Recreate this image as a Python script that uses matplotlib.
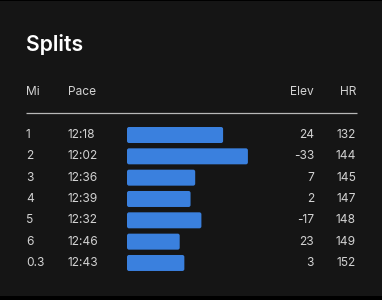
import matplotlib
matplotlib.use("Agg")
import matplotlib.pyplot as plt
from matplotlib.patches import FancyBboxPatch, Rectangle
import matplotlib.transforms as mtransforms

# ---- data ----
miles = ["1", "2", "3", "4", "5", "6", "0.3"]
paces = ["12:18", "12:02", "12:36", "12:39", "12:32", "12:46", "12:43"]
elev = [24, -33, 7, 2, -17, 23, 3]
hr = [132, 144, 145, 147, 148, 149, 152]
headers = ["Mi", "Pace", "Elev", "HR"]
title = "Splits"

pace_sec = [int(p.split(":")[0]) * 60 + int(p.split(":")[1]) for p in paces]
baseline = 800  # 13:20 -> zero-length bar
bar_len = [baseline - s for s in pace_sec]

W, H = 382, 300
DPI = 100
plt.rcParams['font.family'] = ['Inter', 'DejaVu Sans']

fig = plt.figure(figsize=(W / DPI, H / DPI), dpi=DPI, facecolor="#000000")
base = fig.add_axes([0, 0, 1, 1])
base.set_xlim(0, W)
base.set_ylim(H, 0)
base.axis("off")
base.add_patch(Rectangle((0, 1), W, 295, facecolor="#151515", edgecolor="none", zorder=0))

# bar axes
px_per_sec = 1.55
bx0, bx1 = 127, 357
row0, row_step = 135, 21.33
n = len(miles)
y_top = row0 - row_step / 2
y_bot = row0 + row_step * (n - 0.5)
bar_ax = fig.add_axes([bx0 / W, 1 - y_bot / H, (bx1 - bx0) / W, (y_bot - y_top) / H])
bar_ax.set_xlim(0, (bx1 - bx0) / px_per_sec)
bar_ax.set_ylim(n - 0.5, -0.5)
bar_ax.axis("off")
bar_ax.patch.set_alpha(0)

bar_h = 16 / row_step
x_per_px = 1 / px_per_sec
y_per_px = 1 / row_step
for i, L in enumerate(bar_len):
    p = FancyBboxPatch((0, i - bar_h / 2), L, bar_h,
                       boxstyle="round,pad=0,rounding_size=%f" % (2 * x_per_px),
                       mutation_aspect=y_per_px / x_per_px,
                       facecolor="#3a80de", edgecolor="none")
    bar_ax.add_patch(p)

# text
tc = "#d2d2d2"
fs = 8.6
base.text(26, 44.5, title, fontsize=15.2, fontweight="semibold", color="#ffffff",
          ha="left", va="center")
hy = 92
base.text(26, hy, headers[0], fontsize=fs, color=tc, ha="left", va="center")
base.text(68, hy, headers[1], fontsize=fs, color=tc, ha="left", va="center")
base.text(314, hy, headers[2], fontsize=fs, color=tc, ha="right", va="center")
base.text(356, hy, headers[3], fontsize=fs, color=tc, ha="right", va="center")
base.plot([26, 357], [113.3, 113.3], color="#b8b8b8", lw=0.9, solid_capstyle="butt")

tr = mtransforms.blended_transform_factory(base.transData, bar_ax.transData)
for i in range(n):
    base.text(26, i, miles[i], fontsize=fs, color=tc, ha="left", va="center", transform=tr)
    base.text(68, i, paces[i], fontsize=fs, color=tc, ha="left", va="center", transform=tr)
    base.text(314, i, str(elev[i]), fontsize=fs, color=tc, ha="right", va="center", transform=tr)
    base.text(356, i, str(hr[i]), fontsize=fs, color=tc, ha="right", va="center", transform=tr)

fig.savefig("out.png", dpi=DPI, facecolor=fig.get_facecolor())
